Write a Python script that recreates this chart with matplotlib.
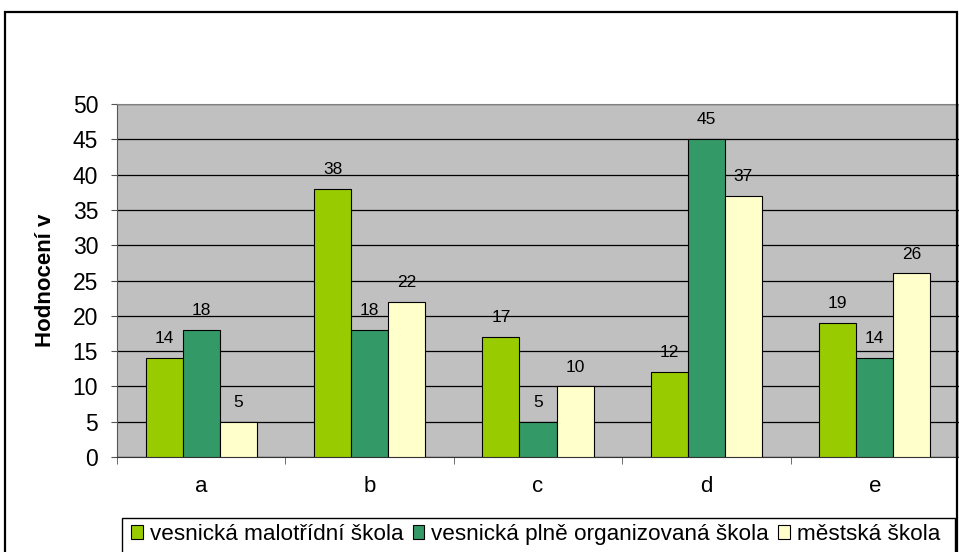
import matplotlib
matplotlib.use("Agg")
import matplotlib.pyplot as plt
import numpy as np
from matplotlib.patches import Rectangle

plt.rcParams["font.family"] = ["Liberation Sans", "DejaVu Sans"]

categories = ["a", "b", "c", "d", "e"]
series_names = ["vesnická malotřídní škola", "vesnická plně organizovaná škola", "městská škola"]
malotridni = [14, 38, 17, 12, 19]
plne_org = [18, 18, 5, 45, 14]
mestska = [5, 22, 10, 37, 26]
colors = ["#99CC00", "#339966", "#FFFFCC"]

fig = plt.figure(figsize=(9.59, 5.52), dpi=100)
W, H = 959, 552

# outer chart frame
fig.patches.append(Rectangle((5 / W, -0.05), 952 / W, 1.05 - 12 / H,
                             transform=fig.transFigure, fill=False,
                             edgecolor="black", linewidth=1.6))
# legend frame (wider than its entries, runs off the bottom)
fig.patches.append(Rectangle((122 / W, -0.05), 833 / W, 0.05 + 1 - 518 / H,
                             transform=fig.transFigure, fill=False,
                             edgecolor="black", linewidth=1.0))

ax = fig.add_axes([117 / W, 95 / H, 842 / W, 353 / H])
ax.set_facecolor("#C0C0C0")

x = np.arange(len(categories))
width = 0.22
for i, (vals, name) in enumerate(zip([malotridni, plne_org, mestska], series_names)):
    pos = x + (i - 1) * width
    bars = ax.bar(pos, vals, width, color=colors[i], edgecolor="black",
                  linewidth=0.8, label=name, zorder=3)
    for b, v in zip(bars, vals):
        ax.annotate(str(v), (b.get_x() + b.get_width() / 2, v),
                    xytext=(0, 8.5), textcoords="offset points",
                    ha="center", va="bottom", fontsize=12.5, zorder=4)

ax.set_xlim(-0.5, len(categories) - 0.5)
ax.set_ylim(0, 50)
ax.set_yticks(np.arange(0, 51, 5))
ax.yaxis.grid(True, color="black", linewidth=0.9, zorder=1)
ax.set_axisbelow(True)

ax.set_xticks(x)
ax.set_xticklabels(categories, fontsize=16)
ax.set_xticks(np.arange(-0.5, len(categories)), minor=True)
ax.tick_params(axis="x", which="major", length=0, pad=14)
ax.tick_params(axis="x", which="minor", length=5, color="#555555")
ax.tick_params(axis="y", labelsize=16.5, length=4.5, color="#555555", pad=9)

ax.set_ylabel("Hodnocení v", fontsize=16, fontweight="bold", labelpad=12)

ax.spines["top"].set_color("#808080")
ax.spines["right"].set_visible(False)
ax.spines["left"].set_color("#555555")
ax.spines["bottom"].set_color("#333333")

fig.legend(loc="upper left", bbox_to_anchor=(122 / W, 1 - 515 / H),
           ncol=3, fontsize=16.2, frameon=False,
           handlelength=0.53, handleheight=0.53,
           handletextpad=0.31, columnspacing=0.4, borderpad=0.4,
           borderaxespad=0)

fig.savefig("out.png", dpi=100)
